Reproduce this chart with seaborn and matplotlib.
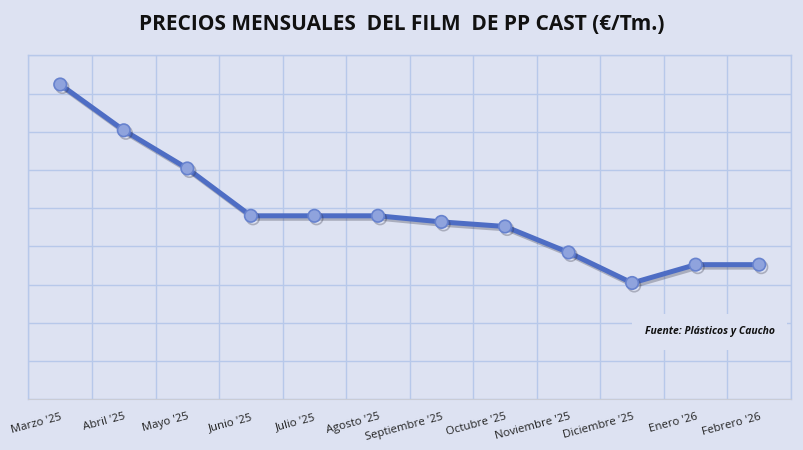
import pandas as pd
import matplotlib.pyplot as plt
import matplotlib.patheffects as pe
import seaborn as sns

# -----------------------------
# DATA
# -----------------------------
meses = ["Marzo '25", "Abril '25", "Mayo '25", "Junio '25", "Julio '25", "Agosto '25",
         "Septiembre '25", "Octubre '25", "Noviembre '25", "Diciembre '25",
         "Enero '26", "Febrero '26"]
precios = [1706, 1676, 1651, 1620, 1620, 1620, 1616, 1613, 1596, 1576, 1588, 1588]

titulo = "PRECIOS MENSUALES  DEL FILM  DE PP CAST (€/Tm.)"
fuente = "Fuente: Plásticos y Caucho"

df = pd.DataFrame({"Mes": meses, "Precio": precios})

# -----------------------------
# STYLE
# -----------------------------
bg = "#DDE2F2"
grid_col = "#B7C8EA"
line_col = "#4E6DC4"

sns.set_style("whitegrid")
plt.rcParams["font.family"] = ["Open Sans", "DejaVu Sans"]

fig = plt.figure(figsize=(8.04, 4.5), dpi=100, facecolor=bg)
ax = fig.add_axes([0.0354, 0.1133, 0.9484, 0.7634])
ax.set_facecolor(bg)

sns.lineplot(
    x="Mes", y="Precio", data=df, sort=False, ax=ax,
    color=line_col, linewidth=3.6,
    marker="o", markersize=9, markerfacecolor="#8FA3DD",
    markeredgecolor="#6782CE", markeredgewidth=1.2,
    path_effects=[pe.SimpleLineShadow(offset=(1.5, -1.8), alpha=0.3, shadow_color="#333344"),
                  pe.Normal()],
)

# axes / grid
ax.set_ylim(1500, 1725)
ax.set_yticks(range(1500, 1726, 25))
ax.set_xlim(-0.5, len(meses) - 0.5)
ax.set_xticks([i + 0.5 for i in range(-1, len(meses))], minor=False)
ax.set_xticks(range(len(meses)), minor=True)
ax.set_xticklabels([""] * (len(meses) + 1))
ax.set_xticklabels(meses, minor=True, rotation=15, ha="right",
                   rotation_mode="anchor", fontsize=8.2, color="#222222")
ax.tick_params(axis="x", which="both", length=0, pad=9)
ax.tick_params(axis="y", length=0, labelleft=False)
ax.grid(True, which="major", color=grid_col, linewidth=1)
ax.set_xlabel("")
ax.set_ylabel("")
for s in ["left", "right", "top"]:
    ax.spines[s].set_color(grid_col)
    ax.spines[s].set_linewidth(1)
ax.spines["bottom"].set_color("#C9CCD6")

# title
fig.text(0.5, 0.945, titulo, ha="center", va="center",
         fontsize=15, fontweight="bold", color="#111111")

# source box
ax.text(0.8938, 0.1965, fuente, transform=ax.transAxes, ha="center", va="center",
        fontsize=7.5, fontweight="bold", style="italic", color="#111111",
        bbox=dict(boxstyle="square,pad=1.2", facecolor=bg, edgecolor="none"))

fig.savefig("out.png", dpi=100, facecolor=bg)
plt.close()
